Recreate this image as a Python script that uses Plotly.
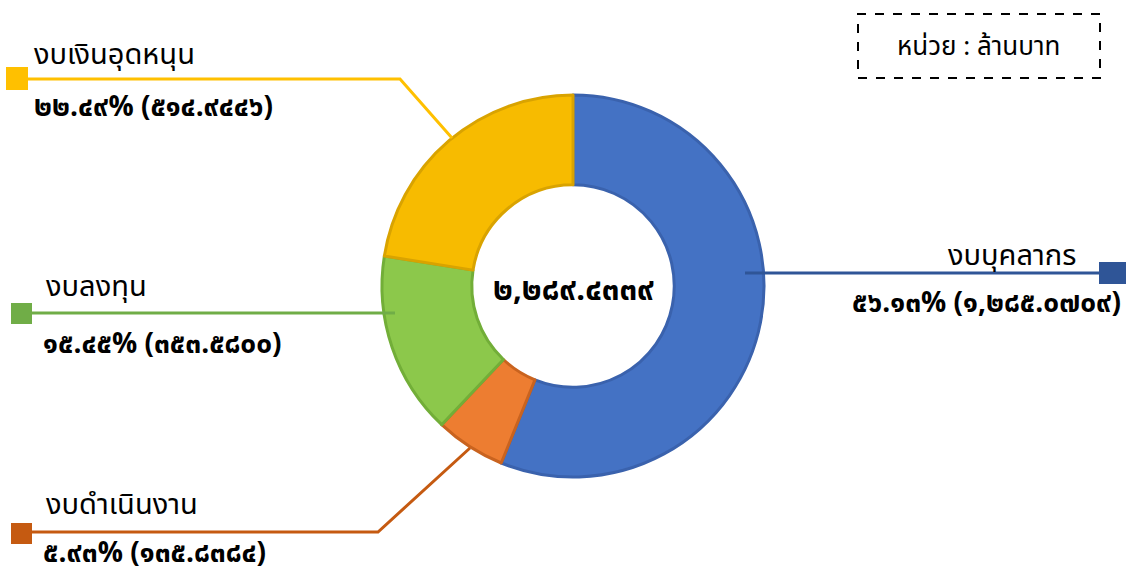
import plotly.graph_objects as go

categories = ["งบบุคลากร", "งบดำเนินงาน", "งบลงทุน", "งบเงินอุดหนุน"]
values = [1285.0709, 135.8384, 353.5800, 514.9446]
percent_labels = ["๕๖.๑๓% (๑,๒๘๕.๐๗๐๙)", "๕.๙๓% (๑๓๕.๘๓๘๔)", "๑๕.๔๕% (๓๕๓.๕๘๐๐)", "๒๒.๔๙% (๕๑๔.๙๔๔๖)"]
total_label = "๒,๒๘๙.๔๓๓๙"
unit_label = "หน่วย : ล้านบาท"

slice_colors = ["#4472C4", "#ED7D31", "#8CC84B", "#F7BB00"]
edge_colors = ["#3A62AD", "#C9631F", "#72AE38", "#D9A300"]
line_colors = ["#2F5597", "#C55A11", "#70AD47", "#FFC000"]

W, H = 1128, 575
FONT = "Tahoma, 'Noto Sans Thai', 'Noto Sans', sans-serif"

def px(x):
    return x / W

def py(y):
    return 1 - y / H

cx, cy, R = 573, 286, 191

fig = go.Figure(go.Pie(
    labels=categories, values=values, sort=False, direction="clockwise",
    rotation=0, hole=0.53, textinfo="none", hoverinfo="label+value+percent",
    marker=dict(colors=slice_colors, line=dict(color=edge_colors, width=3)),
    domain=dict(x=[px(cx - R), px(cx + R)], y=[py(cy + R), py(cy - R)]),
    showlegend=False,
))

layout_spec = {
    "งบเงินอุดหนุน": dict(t=(33, 55), v=(33, 107), anchor="left",
                         path=[(28, 79), (400, 79), (452, 138)], sq=(6, 67, 28, 90)),
    "งบลงทุน": dict(t=(45, 287), v=(42, 344), anchor="left",
                    path=[(32, 313), (395, 313)], sq=(11, 303, 32, 324)),
    "งบบุคลากร": dict(t=(1077, 256), v=(1122, 303), anchor="right",
                      path=[(745, 273), (1100, 273)], sq=(1099, 262, 1126, 284)),
    "งบดำเนินงาน": dict(t=(45, 505), v=(42, 553), anchor="left",
                        path=[(32, 532), (378, 532), (470, 448)], sq=(11, 523, 32, 544)),
}

shapes = []
annotations = []
for cat, pl, lc in zip(categories, percent_labels, line_colors):
    s = layout_spec[cat]
    pts = s["path"]
    d = "M " + " L ".join(f"{px(x)},{py(y)}" for x, y in pts)
    shapes.append(dict(type="path", xref="paper", yref="paper", path=d,
                       line=dict(color=lc, width=3)))
    x0, y0, x1, y1 = s["sq"]
    shapes.append(dict(type="rect", xref="paper", yref="paper",
                       x0=px(x0), x1=px(x1), y0=py(y1), y1=py(y0),
                       fillcolor=lc, line=dict(width=0)))
    annotations.append(dict(text=cat, x=px(s["t"][0]), y=py(s["t"][1]), xref="paper", yref="paper",
                            xanchor=s["anchor"], yanchor="middle", showarrow=False, borderpad=0,
                            font=dict(family=FONT, size=29, color="#000000")))
    annotations.append(dict(text=f"<b>{pl}</b>", x=px(s["v"][0]), y=py(s["v"][1]), xref="paper", yref="paper",
                            xanchor=s["anchor"], yanchor="middle", showarrow=False, borderpad=0,
                            font=dict(family=FONT, size=28, color="#000000")))

annotations.append(dict(text=f"<b>{total_label}</b>", x=px(cx), y=py(290), xref="paper", yref="paper",
                        xanchor="center", yanchor="middle", showarrow=False,
                        font=dict(family=FONT, size=31, color="#000000")))

shapes.append(dict(type="rect", xref="paper", yref="paper", x0=px(858), x1=px(1100),
                   y0=py(78), y1=py(14), line=dict(color="#000000", width=2, dash="dash")))
annotations.append(dict(text=unit_label, x=px(978), y=py(47), xref="paper", yref="paper",
                        xanchor="center", yanchor="middle", showarrow=False,
                        font=dict(family=FONT, size=26, color="#000000")))

fig.update_layout(width=W, height=H, margin=dict(l=0, r=0, t=0, b=0),
                  paper_bgcolor="white", plot_bgcolor="white",
                  shapes=shapes, annotations=annotations)

fig.write_html("out.html", config={"displayModeBar": False},
               post_script="document.body.style.margin='0';document.body.style.padding='0';document.body.style.overflow='hidden';")
